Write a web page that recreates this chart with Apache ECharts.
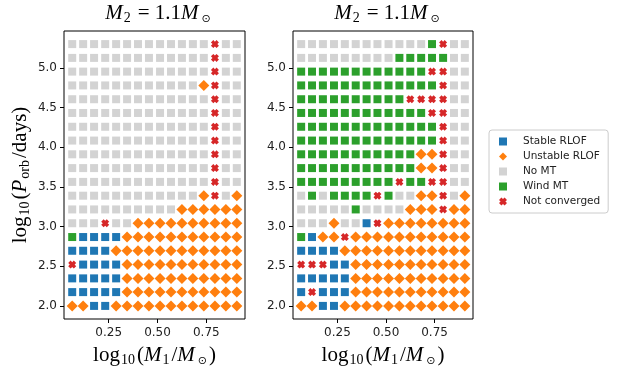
<!DOCTYPE html>
<html>
<head>
<meta charset="utf-8">
<script src="https://cdn.jsdelivr.net/npm/echarts@6/dist/echarts.min.js"></script>
<style>
  html, body { margin: 0; background: #fff; }
  #main { width: 625px; height: 375px; }
</style>
</head>
<body>
<div id="main"></div>
<script>
  // grid of log10(M1) values (columns) and log10(P) values (rows, bottom to top)
  var xGrid = [0.063, 0.119, 0.175, 0.232, 0.288, 0.344, 0.400, 0.456, 0.513, 0.569, 0.625, 0.681, 0.737, 0.794, 0.850, 0.906]
  var yGrid = [2.000, 2.174, 2.347, 2.521, 2.695, 2.868, 3.042, 3.216, 3.389, 3.563, 3.737, 3.911, 4.084, 4.258, 4.432, 4.605, 4.779, 4.953, 5.126, 5.300]
  var xTicks = [0.25, 0.50, 0.75]
  var yTicks = [2.0, 2.5, 3.0, 3.5, 4.0, 4.5, 5.0]

  // outcome per cell, rows from top (5.3) to bottom (2.0)
  // S = Stable RLOF, U = Unstable RLOF, N = No MT, W = Wind MT, X = Not converged
  var leftRows = [
    'NNNNNNNNNNNNNXNN',
    'NNNNNNNNNNNNNXNN',
    'NNNNNNNNNNNNNXNN',
    'NNNNNNNNNNNNUXNN',
    'NNNNNNNNNNNNNXNN',
    'NNNNNNNNNNNNNXNN',
    'NNNNNNNNNNNNNXNN',
    'NNNNNNNNNNNNNXNN',
    'NNNNNNNNNNNNNXNN',
    'NNNNNNNNNNNNNXNN',
    'NNNNNNNNNNNNNXNN',
    'NNNNNNNNNNNNUXNU',
    'NNNNNNNNNNUUUUUU',
    'NNNXNNUUUUUUUUUU',
    'WSSSSUUUUUUUUUUU',
    'SSSSUUUUUUUUUUUU',
    'XSSSSUUUUUUUUUUU',
    'SSSSSUUUUUUUUUUU',
    'SSSSSUUUUUUUUUUU',
    'UUSSUUUUUUUUUUUU'
  ]
  var rightRows = [
    'NNNNNNNNNNNNWXNN',
    'NNNNNNNNNWWWWWNN',
    'WWWWWWWWWWWWXXNN',
    'WWWWWWWWWWWWWXNN',
    'WWWWWWWWWWXXXXNN',
    'WWWWWWWWWWWWXXNN',
    'WWWWWWWWWWWWWXNN',
    'WWWWWWWWWWWWWXNN',
    'WWWWWWWWWWWUUXNN',
    'WWWWWWWWWWWUUXNN',
    'WWWWWWWWWXWWXXNN',
    'NWNWWWWXWNNUUXNU',
    'NNNNNWNNNNUUUXUU',
    'NNNUNNSXUUUUUUUU',
    'WSUUXUUUUUUUUUUU',
    'SSSSUUUUUUUUUUUU',
    'XXXSSUUUUUUUUUUU',
    'SSSSSUUUUUUUUUUU',
    'SXSSSUUUUUUUUUUU',
    'UUSSUUUUUUUUUUUU'
  ]

  var categories = ['Stable RLOF', 'Unstable RLOF', 'No MT', 'Wind MT', 'Not converged']
  var codes = ['S', 'U', 'N', 'W', 'X']
  var colors = ['#1f77b4', '#ff7f0e', '#d3d3d3', '#2ca02c', '#d62728']
  var xPath = 'path://M0,3L3,0L5,2L7,0L10,3L8,5L10,7L7,10L5,8L3,10L0,7L2,5Z'
  var symbols = ['rect', 'diamond', 'rect', 'rect', xPath]
  var sizes = [8, 11, 8, 8, 8]

  function cells (rows, code) {
    var out = []
    for (var r = 0; r < rows.length; r++) {
      var y = yGrid[yGrid.length - 1 - r]
      for (var c = 0; c < rows[r].length; c++) {
        if (rows[r][c] === code) out.push([xGrid[c], y])
      }
    }
    return out
  }

  var series = []
  ;[leftRows, rightRows].forEach(function (rows, g) {
    codes.forEach(function (code, i) {
      series.push({
        name: categories[i],
        type: 'scatter',
        xAxisIndex: g,
        yAxisIndex: g,
        symbol: symbols[i],
        symbolSize: sizes[i],
        itemStyle: { color: colors[i], opacity: 1 },
        data: cells(rows, code)
      })
    })
  })

  // mathtext-like rich styles
  var serif = 'Liberation Serif'
  var mathRich = {
    it: { fontFamily: serif, fontStyle: 'italic', fontWeight: 'normal', fontSize: 21, lineHeight: 24, color: '#000' },
    rm: { fontFamily: serif, fontWeight: 'normal', fontSize: 21, lineHeight: 24, color: '#000' },
    eq: { fontFamily: serif, fontWeight: 'normal', fontSize: 21, lineHeight: 24, padding: [0, 5], color: '#000' },
    sub: { fontFamily: serif, fontWeight: 'normal', fontSize: 14, lineHeight: 12, padding: [0, 2, 0, 1], verticalAlign: 'bottom', color: '#000' },
    sym: { fontFamily: 'DejaVu Sans', fontWeight: 'normal', fontSize: 11, lineHeight: 12, padding: [0, 2, 0, 3], verticalAlign: 'bottom', color: '#000' }
  }
  var titleText = '{it|M}{sub|2}{eq|=}{rm|1.1}{it|M}{sym|⊙}'
  var xName = '{rm|log}{sub|10}{rm|(}{it|M}{sub|1}{rm|/}{it|M}{sym|⊙}{rm|)}'
  var yName = '{rm|log}{sub|10}{rm|(}{it|P}{sub|orb}{rm|/days)}'

  function xAxis (g) {
    return {
      type: 'value', gridIndex: g, min: 0.021, max: 0.948,
      name: xName, nameLocation: 'middle', nameGap: 24,
      nameTextStyle: { rich: mathRich },
      axisLine: { show: false },
      splitLine: { show: false },
      axisTick: { show: true, length: 4, lineStyle: { color: '#000' }, customValues: xTicks },
      axisLabel: { customValues: xTicks, color: '#222', fontFamily: 'DejaVu Sans', fontSize: 12, margin: 8,
        formatter: function (v) { return v.toFixed(2) } }
    }
  }
  function yAxis (g) {
    return {
      type: 'value', gridIndex: g, min: 1.835, max: 5.465,
      name: g === 0 ? yName : '', nameLocation: 'middle', nameGap: 32, nameRotate: 90,
      nameTextStyle: { rich: mathRich },
      axisLine: { show: false },
      splitLine: { show: false },
      axisTick: { show: true, length: 4, lineStyle: { color: '#000' }, customValues: yTicks },
      axisLabel: { customValues: yTicks, color: '#222', fontFamily: 'DejaVu Sans', fontSize: 12, margin: 7,
        formatter: function (v) { return v.toFixed(1) } }
    }
  }

  var chart = echarts.init(document.getElementById('main'))
  chart.setOption({
    animation: false,
    backgroundColor: '#fff',
    title: [
      { text: titleText, left: 154, top: 0, padding: [1, 5], textAlign: 'center', textStyle: { fontWeight: 'normal', rich: mathRich } },
      { text: titleText, left: 383, top: 0, padding: [1, 5], textAlign: 'center', textStyle: { fontWeight: 'normal', rich: mathRich } }
    ],
    grid: [
      { left: 64, top: 31, width: 181, height: 288, show: true, borderColor: '#000', borderWidth: 1, backgroundColor: 'transparent' },
      { left: 293, top: 31, width: 180, height: 288, show: true, borderColor: '#000', borderWidth: 1, backgroundColor: 'transparent' }
    ],
    xAxis: [xAxis(0), xAxis(1)],
    yAxis: [yAxis(0), yAxis(1)],
    legend: {
      data: categories.map(function (name, i) { return { name: name, icon: symbols[i] } }),
      orient: 'vertical',
      left: 489, top: 130,
      itemWidth: 8, itemHeight: 8, itemGap: 4,
      padding: [6, 8, 6, 10],
      borderColor: '#ccc', borderWidth: 1, borderRadius: 3,
      selectedMode: false,
      textStyle: { fontFamily: 'DejaVu Sans', fontSize: 10.5, color: '#222', padding: [0, 0, 0, 11] }
    },
    series: series
  })
</script>
</body>
</html>
